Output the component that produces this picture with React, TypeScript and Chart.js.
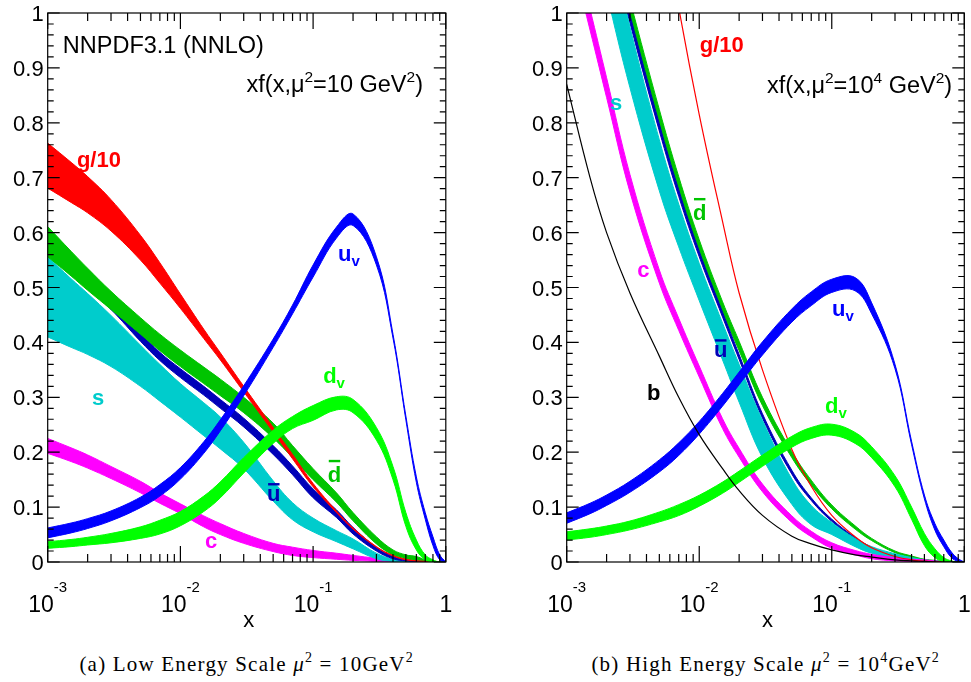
import React, { useEffect, useRef } from 'react';
import { Chart, registerables } from 'chart.js';
Chart.register(...registerables);

// ---------------- data ----------------
const X_GRID = [0.001, 0.0015, 0.002, 0.003, 0.005, 0.007, 0.01, 0.015, 0.02, 0.03, 0.05, 0.07, 0.1, 0.15, 0.2, 0.3, 0.4, 0.5, 0.6, 0.7, 0.8, 0.9, 1];

// Low scale mu^2 = 10 GeV^2
const lowGluonHi = [0.763, 0.728, 0.702, 0.66, 0.595, 0.545, 0.488, 0.424, 0.381, 0.32, 0.245, 0.196, 0.143, 0.093, 0.062, 0.028, 0.012, 0.005, 0.002, 0.001, 0, 0, 0];
const lowGluonLo = [0.681, 0.655, 0.636, 0.603, 0.55, 0.508, 0.462, 0.407, 0.368, 0.31, 0.237, 0.188, 0.137, 0.09, 0.06, 0.027, 0.011, 0.004, 0.002, 0.001, 0, 0, 0];
const lowUvHi = [0.062, 0.071, 0.079, 0.093, 0.118, 0.141, 0.172, 0.219, 0.259, 0.321, 0.406, 0.468, 0.541, 0.61, 0.634, 0.556, 0.415, 0.266, 0.155, 0.09, 0.046, 0.013, 0];
const lowUvLo = [0.044, 0.053, 0.061, 0.075, 0.099, 0.12, 0.151, 0.198, 0.239, 0.303, 0.391, 0.452, 0.519, 0.59, 0.613, 0.541, 0.408, 0.259, 0.145, 0.078, 0.03, 0.004, 0];
const lowDvHi = [0.037, 0.041, 0.045, 0.052, 0.064, 0.076, 0.092, 0.12, 0.146, 0.19, 0.24, 0.265, 0.285, 0.301, 0.296, 0.245, 0.174, 0.09, 0.04, 0.013, 0.004, 0, 0];
const lowDvLo = [0.025, 0.028, 0.031, 0.035, 0.043, 0.051, 0.066, 0.092, 0.117, 0.162, 0.216, 0.243, 0.258, 0.277, 0.272, 0.222, 0.15, 0.065, 0.022, 0.004, 0, 0, 0];
const lowDbarHi = [0.611, 0.566, 0.535, 0.493, 0.445, 0.415, 0.386, 0.355, 0.333, 0.3, 0.253, 0.212, 0.17, 0.126, 0.09, 0.046, 0.022, 0.013, 0.01, 0.004, 0.001, 0, 0];
const lowDbarLo = [0.556, 0.521, 0.495, 0.46, 0.415, 0.385, 0.356, 0.325, 0.303, 0.272, 0.226, 0.19, 0.15, 0.109, 0.075, 0.033, 0.013, 0.006, 0.003, 0.001, 0, 0, 0];
const lowUbarHi = [0.58, 0.545, 0.515, 0.475, 0.418, 0.382, 0.352, 0.32, 0.296, 0.262, 0.212, 0.175, 0.133, 0.095, 0.063, 0.027, 0.01, 0.004, 0.002, 0.001, 0, 0, 0];
const lowUbarLo = [0.56, 0.525, 0.498, 0.46, 0.402, 0.367, 0.336, 0.304, 0.28, 0.246, 0.196, 0.159, 0.117, 0.081, 0.051, 0.02, 0.006, 0.002, 0.001, 0, 0, 0, 0];
const lowSHi = [0.556, 0.516, 0.489, 0.449, 0.395, 0.36, 0.325, 0.29, 0.264, 0.218, 0.148, 0.108, 0.08, 0.057, 0.042, 0.016, 0.005, 0.001, 0, 0, 0, 0, 0];
const lowSLo = [0.41, 0.391, 0.378, 0.356, 0.32, 0.293, 0.264, 0.23, 0.206, 0.17, 0.111, 0.077, 0.055, 0.037, 0.024, 0.006, 0.001, 0, 0, 0, 0, 0, 0];
const lowCHi = [0.225, 0.208, 0.195, 0.174, 0.147, 0.126, 0.106, 0.084, 0.07, 0.052, 0.034, 0.027, 0.021, 0.016, 0.012, 0.007, 0.005, 0.003, 0.002, 0.001, 0, 0, 0];
const lowCLo = [0.198, 0.183, 0.171, 0.152, 0.126, 0.107, 0.088, 0.064, 0.05, 0.034, 0.019, 0.012, 0.008, 0.005, 0.003, 0.001, 0, 0, 0, 0, 0, 0, 0];

// High scale mu^2 = 10^4 GeV^2
const highGluon = [2.4, 2.1, 1.9, 1.6, 1.22, 1.01, 0.815, 0.62, 0.49, 0.35, 0.205, 0.138, 0.085, 0.046, 0.026, 0.01, 0.004, 0.0015, 0.0005, 0.0002, 0, 0, 0];
const highUvHi = [0.0895, 0.107, 0.122, 0.147, 0.186, 0.217, 0.256, 0.307, 0.346, 0.401, 0.461, 0.492, 0.515, 0.518, 0.472, 0.36, 0.22, 0.122, 0.07, 0.04, 0.018, 0.006, 0];
const highUvLo = [0.0705, 0.088, 0.103, 0.127, 0.164, 0.194, 0.233, 0.284, 0.323, 0.377, 0.437, 0.467, 0.491, 0.494, 0.452, 0.352, 0.214, 0.115, 0.058, 0.028, 0.008, 0.001, 0];
const highDvHi = [0.055, 0.0605, 0.0655, 0.0746, 0.0911, 0.1045, 0.1216, 0.1456, 0.1656, 0.1946, 0.229, 0.245, 0.251, 0.236, 0.21, 0.157, 0.1, 0.052, 0.024, 0.008, 0.002, 0, 0];
const highDvLo = [0.04, 0.045, 0.05, 0.0586, 0.0731, 0.0845, 0.1016, 0.1252, 0.1452, 0.1742, 0.209, 0.225, 0.231, 0.216, 0.19, 0.137, 0.078, 0.03, 0.008, 0.001, 0, 0, 0];
const highDbarHi = [1.505, 1.32, 1.193, 1.024, 0.824, 0.702, 0.587, 0.474, 0.402, 0.3, 0.201, 0.149, 0.104, 0.066, 0.043, 0.02, 0.011, 0.005, 0.003, 0.001, 0, 0, 0];
const highDbarLo = [1.475, 1.29, 1.165, 0.997, 0.798, 0.678, 0.566, 0.455, 0.385, 0.285, 0.19, 0.14, 0.097, 0.06, 0.039, 0.017, 0.009, 0.004, 0.002, 0.001, 0, 0, 0];
const highUbarHi = [1.475, 1.29, 1.165, 0.997, 0.798, 0.678, 0.566, 0.455, 0.378, 0.27, 0.167, 0.117, 0.078, 0.045, 0.027, 0.011, 0.005, 0.002, 0.001, 0, 0, 0, 0];
const highUbarLo = [1.459, 1.274, 1.149, 0.982, 0.785, 0.666, 0.556, 0.446, 0.369, 0.262, 0.16, 0.112, 0.074, 0.042, 0.025, 0.01, 0.004, 0.001, 0, 0, 0, 0, 0];
const highSHi = [1.52, 1.3, 1.16, 0.975, 0.769, 0.652, 0.544, 0.435, 0.36, 0.258, 0.151, 0.103, 0.072, 0.043, 0.028, 0.015, 0.008, 0.004, 0.002, 0.001, 0, 0, 0];
const highSLo = [1.37, 1.17, 1.037, 0.864, 0.676, 0.574, 0.476, 0.368, 0.291, 0.19, 0.105, 0.068, 0.05, 0.028, 0.016, 0.007, 0.002, 0.001, 0, 0, 0, 0, 0];
const highCHi = [1.18, 1.007, 0.882, 0.706, 0.532, 0.444, 0.357, 0.261, 0.207, 0.142, 0.084, 0.056, 0.035, 0.021, 0.014, 0.008, 0.005, 0.004, 0.002, 0.001, 0, 0, 0];
const highCLo = [1.14, 0.969, 0.846, 0.674, 0.508, 0.422, 0.337, 0.243, 0.191, 0.128, 0.072, 0.046, 0.025, 0.013, 0.006, 0.002, 0.001, 0, 0, 0, 0, 0, 0];
const highB = [0.87, 0.7, 0.6, 0.49, 0.375, 0.3, 0.232, 0.17, 0.13, 0.085, 0.047, 0.033, 0.022, 0.013, 0.009, 0.004, 0.002, 0.001, 0, 0, 0, 0, 0];

// axis ticks
const Y_TICK_VALUES = [0, 0.1, 0.2, 0.3, 0.4, 0.5, 0.6, 0.7, 0.8, 0.9, 1];
const Y_TICK_LABELS = ['0', '0.1', '0.2', '0.3', '0.4', '0.5', '0.6', '0.7', '0.8', '0.9', '1'];
const X_TICK_VALUES = [0.001, 0.01, 0.1, 1];
const X_TICK_BASES = ['10', '10', '10', '1'];
const X_TICK_EXPS = ['-3', '-2', '-1', ''];

// colours
const C_RED = '#ff0000';
const C_UV = '#0000ff';
const C_DV = '#00ff00';
const C_DBAR = '#00c400';
const C_UBAR = '#0000b8';
const C_S = '#00cccc';
const C_C = '#ff00ff';
const C_B = '#000000';

const SANS = '"Liberation Sans", Arial, Helvetica, sans-serif';
const F_LAB = `bold 22px ${SANS}`;
const F_SUB = `bold 15px ${SANS}`;
const F_TXT = `23.5px ${SANS}`;
const F_SUP = `15.5px ${SANS}`;
const SUP_DY = -10;

type Run = { t: string; font: string; dy?: number; bar?: number };
type Label = { x: number; y: number; color: string; runs: Run[]; align?: 'left' | 'right' };

const lab = (t: string): Run[] => [{ t, font: F_LAB }];
const labSub = (t: string, s: string): Run[] => [{ t, font: F_LAB }, { t: s, font: F_SUB, dy: 5 }];
const labBar = (t: string, off: number): Run[] => [{ t, font: F_LAB, bar: off }];

const LOW_LABELS: Label[] = [
  { x: 0.0013, y: 0.927, color: '#000', runs: [{ t: 'NNPDF3.1 (NNLO)', font: F_TXT }] },
  {
    x: 0.673, y: 0.856, color: '#000', align: 'right',
    runs: [{ t: 'xf(x,\u03bc', font: F_TXT }, { t: '2', font: F_SUP, dy: SUP_DY }, { t: '=10 GeV', font: F_TXT }, { t: '2', font: F_SUP, dy: SUP_DY }, { t: ')', font: F_TXT }],
  },
  { x: 0.00166, y: 0.7195, color: C_RED, runs: lab('g/10') },
  { x: 0.154, y: 0.548, color: C_UV, runs: labSub('u', 'v') },
  { x: 0.119, y: 0.326, color: C_DV, runs: labSub('d', 'v') },
  { x: 0.129, y: 0.146, color: C_DBAR, runs: labBar('d', 22) },
  { x: 0.045, y: 0.111, color: C_UBAR, runs: labBar('u', 18) },
  { x: 0.00216, y: 0.286, color: C_S, runs: lab('s') },
  { x: 0.0153, y: 0.0255, color: C_C, runs: lab('c') },
];

const HIGH_LABELS: Label[] = [
  {
    x: 0.809, y: 0.854, color: '#000', align: 'right',
    runs: [{ t: 'xf(x,\u03bc', font: F_TXT }, { t: '2', font: F_SUP, dy: SUP_DY }, { t: '=10', font: F_TXT }, { t: '4', font: F_SUP, dy: SUP_DY }, { t: ' GeV', font: F_TXT }, { t: '2', font: F_SUP, dy: SUP_DY }, { t: ')', font: F_TXT }],
  },
  { x: 0.0101, y: 0.929, color: C_RED, runs: lab('g/10') },
  { x: 0.00212, y: 0.823, color: C_S, runs: lab('s') },
  { x: 0.00897, y: 0.623, color: C_DBAR, runs: labBar('d', 22) },
  { x: 0.0034, y: 0.519, color: C_C, runs: lab('c') },
  { x: 0.01294, y: 0.373, color: C_UBAR, runs: labBar('u', 18) },
  { x: 0.00404, y: 0.295, color: C_B, runs: lab('b') },
  { x: 0.1005, y: 0.448, color: C_UV, runs: labSub('u', 'v') },
  { x: 0.0889, y: 0.271, color: C_DV, runs: labSub('d', 'v') },
];

type Series = { color: string; hi: number[]; lo?: number[]; bw?: number };

// listed top-most first
const LOW_SERIES: Series[] = [
  { color: C_UV, hi: lowUvHi, lo: lowUvLo },
  { color: C_DV, hi: lowDvHi, lo: lowDvLo },
  { color: C_RED, hi: lowGluonHi, lo: lowGluonLo },
  { color: C_DBAR, hi: lowDbarHi, lo: lowDbarLo },
  { color: C_UBAR, hi: lowUbarHi, lo: lowUbarLo },
  { color: C_S, hi: lowSHi, lo: lowSLo },
  { color: C_C, hi: lowCHi, lo: lowCLo },
];

const HIGH_SERIES: Series[] = [
  { color: C_B, hi: highB, bw: 1.2 },
  { color: C_UV, hi: highUvHi, lo: highUvLo },
  { color: C_DV, hi: highDvHi, lo: highDvLo },
  { color: C_RED, hi: highGluon, bw: 1.2 },
  { color: C_C, hi: highCHi, lo: highCLo },
  { color: C_S, hi: highSHi, lo: highSLo },
  { color: C_UBAR, hi: highUbarHi, lo: highUbarLo },
  { color: C_DBAR, hi: highDbarHi, lo: highDbarLo },
];

// ---------------- helpers ----------------
const pts = (ys: number[]) => X_GRID.map((x, i) => ({ x, y: ys[i] }));

function buildDatasets(series: Series[]) {
  const out: any[] = [];
  for (const s of series) {
    const common = {
      borderColor: s.color,
      backgroundColor: s.color,
      pointRadius: 0,
      tension: 0.4,
      cubicInterpolationMode: 'default' as const,
      capBezierPoints: false,
      borderJoinStyle: 'round' as const,
    };
    if (s.lo) {
      out.push({ ...common, data: pts(s.hi), borderWidth: s.bw ?? 1, fill: '+1' });
      out.push({ ...common, data: pts(s.lo), borderWidth: s.bw ?? 1, fill: false });
    } else {
      out.push({ ...common, data: pts(s.hi), borderWidth: s.bw ?? 1, fill: false });
    }
  }
  return out;
}

function drawRuns(ctx: CanvasRenderingContext2D, x: number, y: number, runs: Run[], align: string) {
  let total = 0;
  for (const r of runs) {
    ctx.font = r.font;
    total += ctx.measureText(r.t).width;
  }
  let cx = align === 'right' ? x - total : align === 'center' ? x - total / 2 : x;
  for (const r of runs) {
    ctx.font = r.font;
    const w = ctx.measureText(r.t).width;
    ctx.fillText(r.t, cx, y + (r.dy || 0));
    if (r.bar) ctx.fillRect(cx + 1, y - r.bar, w - 2, 2.4);
    cx += w;
  }
}

function makeFramePlugin(labels: Label[]) {
  return {
    id: 'rootFrame',
    afterDatasetsDraw(chart: any) {
      const ctx: CanvasRenderingContext2D = chart.ctx;
      const a = chart.chartArea;
      const xs = chart.scales.x;
      const ys = chart.scales.y;
      ctx.save();
      ctx.strokeStyle = '#000';
      ctx.fillStyle = '#000';
      ctx.lineWidth = 1.2;
      ctx.strokeRect(a.left, a.top, a.right - a.left, a.bottom - a.top);
      ctx.beginPath();
      for (let d = -3; d <= 0; d++) {
        for (let m = 1; m <= 9; m++) {
          const v = m * Math.pow(10, d);
          if (v > 1.0000001) break;
          const px = xs.getPixelForValue(v);
          const len = m === 1 ? 16 : 8;
          ctx.moveTo(px, a.bottom);
          ctx.lineTo(px, a.bottom - len);
          ctx.moveTo(px, a.top);
          ctx.lineTo(px, a.top + len);
        }
      }
      for (let i = 0; i <= 50; i++) {
        const py = ys.getPixelForValue(i * 0.02);
        const len = i % 5 === 0 ? 12 : 6;
        ctx.moveTo(a.left, py);
        ctx.lineTo(a.left + len, py);
        ctx.moveTo(a.right, py);
        ctx.lineTo(a.right - len, py);
      }
      ctx.stroke();

      ctx.textBaseline = 'alphabetic';
      ctx.textAlign = 'left';
      Y_TICK_VALUES.forEach((v, i) => {
        const py = ys.getPixelForValue(v);
        drawRuns(ctx, a.left - 4, py + 8, [{ t: Y_TICK_LABELS[i], font: `22px ${SANS}` }], 'right');
      });
      X_TICK_VALUES.forEach((v, i) => {
        const px = xs.getPixelForValue(v);
        const runs: Run[] = [{ t: X_TICK_BASES[i], font: `23px ${SANS}` }];
        if (X_TICK_EXPS[i]) runs.push({ t: X_TICK_EXPS[i], font: `15px ${SANS}`, dy: -20 });
        drawRuns(ctx, px, a.bottom + 50, runs, 'center');
      });
      drawRuns(ctx, (a.left + a.right) / 2 + 2, a.bottom + 65, [{ t: 'x', font: `22px ${SANS}` }], 'center');

      for (const l of labels) {
        ctx.fillStyle = l.color;
        drawRuns(ctx, xs.getPixelForValue(l.x), ys.getPixelForValue(l.y), l.runs, l.align || 'left');
      }
      ctx.restore();
    },
  };
}

type PanelProps = { series: Series[]; labels: Label[]; left: number; width: number; pad: { left: number; right: number } };

function Panel({ series, labels, left, width, pad }: PanelProps) {
  const ref = useRef<HTMLCanvasElement>(null);
  useEffect(() => {
    if (!ref.current) return;
    const chart = new Chart(ref.current, {
      type: 'line',
      data: { datasets: buildDatasets(series) },
      options: {
        animation: false,
        responsive: false,
        maintainAspectRatio: false,
        devicePixelRatio: 1,
        layout: { padding: { left: pad.left, right: pad.right, top: 13, bottom: 78 } },
        scales: {
          x: { type: 'logarithmic', min: 0.001, max: 1, display: false },
          y: { type: 'linear', min: 0, max: 1, display: false },
        },
        plugins: { legend: { display: false }, tooltip: { enabled: false } },
        elements: { point: { radius: 0 }, line: { capBezierPoints: false } },
      },
      plugins: [makeFramePlugin(labels) as any],
    } as any);
    return () => chart.destroy();
  }, []);
  return (
    <canvas
      ref={ref}
      width={width}
      height={640}
      style={{ position: 'absolute', left, top: 0, width, height: 640 }}
    />
  );
}

const SERIF = '"Liberation Serif", "Times New Roman", serif';
const supStyle: React.CSSProperties = { fontSize: 14, position: 'relative', top: -9 };
const capStyle: React.CSSProperties = {
  position: 'absolute', width: 398, top: 652, textAlign: 'center', font: `21px ${SERIF}`,
  lineHeight: '24px', letterSpacing: 1.2, whiteSpace: 'nowrap',
};

export default function App() {
  return (
    <div style={{ position: 'absolute', left: 0, top: 0, width: 971, height: 682, background: '#fff', overflow: 'hidden' }}>
      <Panel series={LOW_SERIES} labels={LOW_LABELS} left={0} width={485} pad={{ left: 47.7, right: 39.2 }} />
      <Panel series={HIGH_SERIES} labels={HIGH_LABELS} left={485} width={486} pad={{ left: 81.7, right: 6.7 }} />
      <div style={{ ...capStyle, left: 47.7 }}>
        (a) Low Energy Scale <i>{'\u03bc'}</i><span style={supStyle}>2</span> = 10GeV<span style={supStyle}>2</span>
      </div>
      <div style={{ ...capStyle, left: 566.7 }}>
        (b) High Energy Scale <i>{'\u03bc'}</i><span style={supStyle}>2</span> = 10<span style={supStyle}>4</span>GeV<span style={supStyle}>2</span>
      </div>
    </div>
  );
}
